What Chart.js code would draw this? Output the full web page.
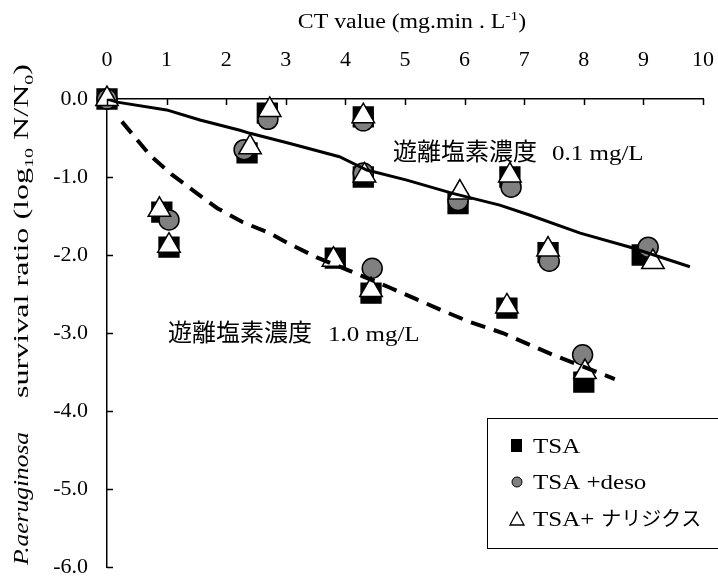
<!DOCTYPE html>
<html>
<head>
<meta charset="utf-8">
<script src="https://cdn.jsdelivr.net/npm/chart.js@4.4.1/dist/chart.umd.min.js"></script>
<style>
    html, body { margin: 0; padding: 0; background: #fff; overflow: hidden; }
    #wrap { width: 718px; height: 579px; }
    .pre { position: absolute; left: -9999px; }
</style>
</head>
<body>
<div class="pre" style="font-family:'Liberation Serif'">0.1 TSA <i>P.aeruginosa</i></div>
<div class="pre" style="font-family:'Noto Sans CJK JP'">遊離塩素濃度 ナリジクス</div>
<div id="wrap"><canvas id="chart"></canvas></div>
<script>
// axis ticks
const xTickValues = [0, 1, 2, 3, 4, 5, 6, 7, 8, 9, 10];
const yTickValues = [0, -1, -2, -3, -4, -5, -6];

// TSA (black squares)
const tsaCT  = [0, 0.92, 1.04, 2.35, 2.69, 3.83, 4.3, 4.3, 4.43, 5.89, 6.71, 6.76, 7.4, 8.0, 8.98];
const tsaLog = [0, -1.45, -1.9, -0.69, -0.18, -2.04, -0.23, -1.0, -2.49, -1.34, -2.68, -1.0, -1.97, -3.63, -2.0];

// TSA +deso (grey circles)
const desoCT  = [0, 1.04, 2.3, 2.7, 4.3, 4.3, 4.45, 5.89, 6.78, 7.42, 7.98, 9.08];
const desoLog = [0, -1.55, -0.65, -0.26, -0.28, -0.95, -2.17, -1.3, -1.13, -2.08, -3.28, -1.9];

// TSA+ ナリジクス (white triangles)
const nalCT  = [0, 0.88, 1.04, 2.4, 2.73, 3.8, 4.3, 4.32, 4.43, 5.92, 6.71, 6.76, 7.4, 8.02, 9.16];
const nalLog = [0, -1.42, -1.88, -0.62, -0.14, -2.06, -0.22, -0.98, -2.45, -1.2, -2.66, -0.98, -1.93, -3.5, -2.09];

// trend lines
const fit01CT  = [0, 0.17, 1.0, 1.56, 2.23, 2.4, 3.07, 3.9, 4.36, 5.03, 5.8, 6.59, 7.1, 7.94, 8.78, 9.78];
const fit01Log = [0, -0.04, -0.14, -0.27, -0.4, -0.44, -0.57, -0.74, -0.91, -1.04, -1.21, -1.36, -1.49, -1.72, -1.9, -2.15];
const fit10CT  = [0.25, 0.72, 1.09, 1.51, 1.85, 2.28, 2.73, 3.04, 3.52, 4.03, 4.75, 5.59, 6.09, 6.64, 7.48, 8.52];
const fit10Log = [-0.29, -0.72, -0.97, -1.21, -1.4, -1.58, -1.72, -1.85, -2.03, -2.19, -2.42, -2.7, -2.86, -3.0, -3.28, -3.59];

const SERIF = '"Liberation Serif", "Times New Roman", Tinos, serif';
const GOTHIC = '"Noto Sans CJK JP", sans-serif';
const STRETCH = 1.19;

const pts = (xs, ys) => xs.map((x, i) => ({ x: x, y: ys[i] }));

// text runs: {t, font, dy, sx, gap}
function textWidth(ctx, parts) {
    let w = 0;
    parts.forEach(p => {
        ctx.font = p.font;
        w += ctx.measureText(p.t).width * (p.sx || 1) + (p.gap || 0);
    });
    return w;
}
function drawParts(ctx, parts, x, y) {
    ctx.save();
    ctx.textBaseline = 'alphabetic';
    ctx.textAlign = 'left';
    let cx = x;
    parts.forEach(p => {
        cx += p.gap || 0;
        ctx.font = p.font;
        ctx.save();
        ctx.translate(cx, y + (p.dy || 0));
        ctx.scale(p.sx || 1, 1);
        ctx.fillText(p.t, 0, 0);
        ctx.restore();
        cx += ctx.measureText(p.t).width * (p.sx || 1);
    });
    ctx.restore();
}
// fit a run to a given length along the text direction
function fitParts(ctx, parts, len) {
    const k = len / textWidth(ctx, parts);
    return parts.map(p => Object.assign({}, p, { sx: (p.sx || 1) * k }));
}

const decorPlugin = {
    id: 'decor',
    afterDraw(chart) {
        const ctx = chart.ctx;
        const xs = chart.scales.x, ys = chart.scales.y;
        ctx.save();
        ctx.fillStyle = '#000';
        ctx.strokeStyle = '#000';

        // inner tick marks
        ctx.lineWidth = 1.5;
        ctx.beginPath();
        xTickValues.forEach(v => {
            const px = Math.round(xs.getPixelForValue(v)) + 0.5;
            ctx.moveTo(px, ys.top);
            ctx.lineTo(px, ys.top + 6);
        });
        yTickValues.forEach(v => {
            const py = Math.round(ys.getPixelForValue(v)) + 0.5;
            ctx.moveTo(xs.left, py);
            ctx.lineTo(xs.left + 6, py);
        });
        ctx.stroke();

        // x title
        const f20 = '20px ' + SERIF;
        const xt = [
            { t: 'CT value (mg.min . L', font: f20, sx: STRETCH },
            { t: '-1', font: '13px ' + SERIF, dy: -8, sx: STRETCH },
            { t: ')', font: f20, sx: STRETCH }
        ];
        drawParts(ctx, xt, 412 - textWidth(ctx, xt) / 2, 28);

        // y title, rotated
        const yt1 = fitParts(ctx, [{ t: 'P.aeruginosa', font: 'italic 21px ' + SERIF }], 133);
        const yt2 = fitParts(ctx, [
            { t: 'survival ratio (log', font: '21px ' + SERIF },
            { t: '10', font: '13px ' + SERIF, dy: 5 },
            { t: ' N/N', font: '21px ' + SERIF },
            { t: '0', font: '13px ' + SERIF, dy: 5 },
            { t: ')', font: '21px ' + SERIF }
        ], 334);
        ctx.save();
        ctx.translate(28, 565);
        ctx.rotate(-Math.PI / 2);
        drawParts(ctx, yt1, 0, 0);
        drawParts(ctx, yt2, 167, 0);
        ctx.restore();

        // annotations
        drawParts(ctx, [
            { t: '遊離塩素濃度', font: '24px ' + GOTHIC },
            { t: '0.1 mg/L', font: '21px ' + SERIF, sx: STRETCH, gap: 15 }
        ], 393, 160);
        drawParts(ctx, [
            { t: '遊離塩素濃度', font: '24px ' + GOTHIC },
            { t: '1.0 mg/L', font: '21px ' + SERIF, sx: STRETCH, gap: 16 }
        ], 168, 341);

        // legend
        ctx.lineWidth = 1;
        ctx.strokeRect(487.5, 418.5, 260, 130);
        const sets = chart.data.datasets.filter(d => d.label).reverse();
        const rows = [446, 482, 519];
        sets.forEach((d, i) => {
            const cy = rows[i];
            const mx = 517;
            ctx.save();
            ctx.fillStyle = d.backgroundColor;
            ctx.strokeStyle = '#000';
            ctx.lineWidth = 1;
            if (d.pointStyle === 'rect') {
                ctx.fillRect(mx - 6, cy - 7, 11, 13);
            } else if (d.pointStyle === 'circle') {
                ctx.beginPath();
                ctx.arc(mx, cy, 5, 0, Math.PI * 2);
                ctx.fill(); ctx.stroke();
            } else {
                ctx.lineWidth = 1.3;
                ctx.beginPath();
                ctx.moveTo(mx, cy - 7);
                ctx.lineTo(mx + 7, cy + 6);
                ctx.lineTo(mx - 7, cy + 6);
                ctx.closePath();
                ctx.fill(); ctx.stroke();
            }
            ctx.restore();
            const parts = d.legendParts.map(p => p[1]
                ? { t: p[0], font: '20px ' + GOTHIC, gap: 7 }
                : { t: p[0], font: '21px ' + SERIF, sx: STRETCH });
            drawParts(ctx, parts, 533, cy + 7);
        });
        ctx.restore();
    }
};

function build() {
    new Chart(document.getElementById('chart'), {
        type: 'scatter',
        data: {
            datasets: [
                {
                    data: pts(fit01CT, fit01Log), showLine: true, borderColor: '#000',
                    borderWidth: 3, pointRadius: 0, tension: 0, fill: false
                },
                {
                    data: pts(fit10CT, fit10Log), showLine: true, borderColor: '#000',
                    borderWidth: 4, borderDash: [15, 9], pointRadius: 0, tension: 0, fill: false
                },
                {
                    label: 'TSA+ ナリジクス', legendParts: [['TSA+'], ['ナリジクス', 1]],
                    data: pts(nalCT, nalLog), pointStyle: 'triangle', pointRadius: 13, clip: false,
                    backgroundColor: '#fff', borderColor: '#000', borderWidth: 1.5
                },
                {
                    label: 'TSA +deso', legendParts: [['TSA +deso']],
                    data: pts(desoCT, desoLog), pointStyle: 'circle', pointRadius: 10, clip: false,
                    backgroundColor: '#808080', borderColor: '#000', borderWidth: 1.5
                },
                {
                    label: 'TSA', legendParts: [['TSA']],
                    data: pts(tsaCT, tsaLog), pointStyle: 'rect', pointRadius: 14, clip: false,
                    backgroundColor: '#000', borderColor: '#000', borderWidth: 1.5
                }
            ]
        },
        options: {
            responsive: true,
            maintainAspectRatio: false,
            animation: false,
            events: [],
            layout: { autoPadding: false, padding: { left: 0, top: 0, right: 15, bottom: 12 } },
            plugins: { legend: { display: false }, tooltip: { enabled: false } },
            scales: {
                x: {
                    type: 'linear', position: 'top', min: 0, max: 10,
                    afterBuildTicks: s => { s.ticks = xTickValues.map(v => ({ value: v })); },
                    afterFit: s => { s.height = 99; s.paddingLeft = 0; s.paddingRight = 0; },
                    grid: { display: false, drawTicks: false },
                    border: { display: true, color: '#000', width: 1.5 },
                    ticks: { color: '#000', padding: 26, font: { family: SERIF, size: 22 } }
                },
                y: {
                    type: 'linear', min: -6, max: 0,
                    afterBuildTicks: s => { s.ticks = yTickValues.map(v => ({ value: v })); },
                    afterFit: s => { s.width = 107; s.paddingTop = 0; s.paddingBottom = 0; },
                    grid: { display: false, drawTicks: false },
                    border: { display: true, color: '#000', width: 1.5 },
                    ticks: {
                        color: '#000', padding: 19, font: { family: SERIF, size: 22 },
                        callback: v => v.toFixed(1)
                    }
                }
            }
        },
        plugins: [decorPlugin]
    });
}

Promise.all([
    document.fonts.load('22px "Liberation Serif"'),
    document.fonts.load('italic 21px "Liberation Serif"'),
    document.fonts.load('21px "Noto Sans CJK JP"', '遊離塩素濃度ナリジクス')
]).then(build, build);
</script>
</body>
</html>
